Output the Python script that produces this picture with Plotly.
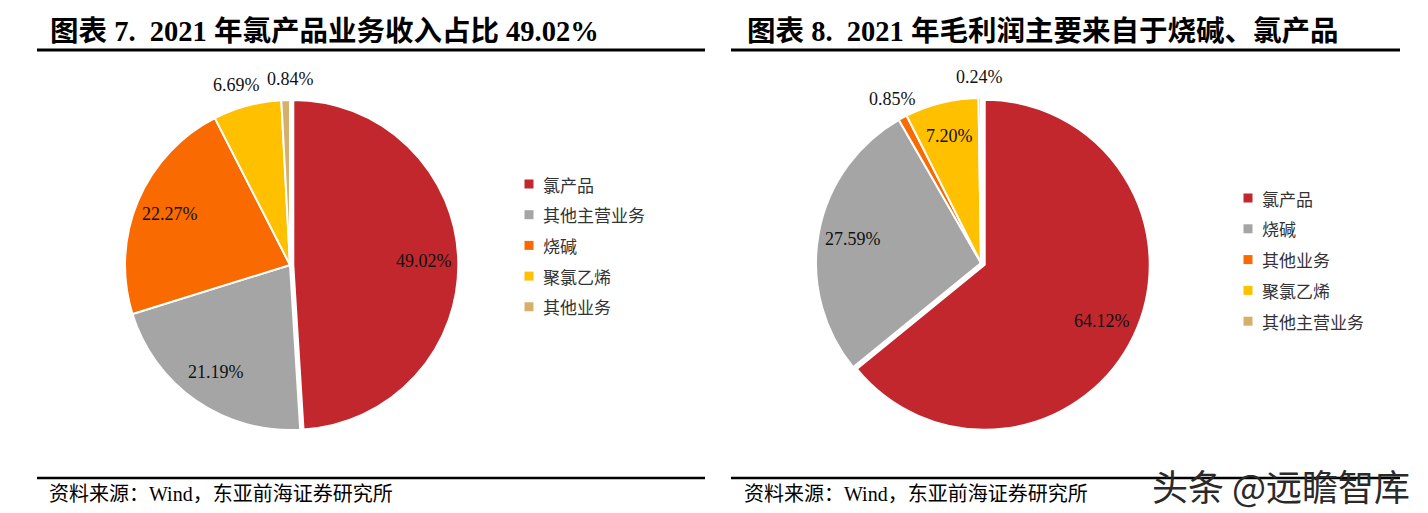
"""
两张饼图：2021 年营业收入与毛利润构成
"""

import math
import plotly.graph_objects as go

# ---- 数据 ----
left_labels = ['氯产品', '其他主营业务', '烧碱', '聚氯乙烯', '其他业务']
left_values = [49.02, 21.19, 22.27, 6.69, 0.84]

right_labels = ['氯产品', '烧碱', '其他业务', '聚氯乙烯', '其他主营业务']
right_values = [64.12, 27.59, 0.85, 7.20, 0.24]

left_title = '图表 7.  2021 年氯产品业务收入占比 49.02%'
right_title = '图表 8.  2021 年毛利润主要来自于烧碱、氯产品'
source_text = '资料来源：Wind，东亚前海证券研究所'
watermark = '头条 @远瞻智库'

# ---- 样式 ----
W, H = 1428, 513
OFF = 8  # 页面 body 的默认外边距
SERIF = 'Liberation Serif, Times New Roman, Noto Sans CJK SC'
CJK = 'Noto Sans CJK SC'
LABEL_SIZE = 18

left_colors = ['#C1272D', '#A5A5A5', '#F96A00', '#FFC000', '#D6B06B']
right_colors = ['#C1272D', '#A5A5A5', '#F96A00', '#FFC000', '#D6B06B']

left_textpos = ['inside', 'inside', 'inside', 'outside', 'outside']
right_textpos = ['inside', 'inside', 'outside', 'inside', 'outside']

# 饼图几何（像素）
left_pie = dict(cx=290, cy=265, r=165, pull=0.02)
right_pie = dict(cx=981, cy=263, r=165, pull=0.025)


def px_x(x):
    return (x - OFF) / (W - OFF)


def px_y(y):
    return 1 - (y - OFF) / (H - OFF)


def pie_trace(labels, values, colors, geo):
    half = geo['r'] * (1 + geo['pull'])
    pulls = [geo['pull']] + [0] * (len(values) - 1)
    return go.Pie(
        labels=labels, values=values,
        marker=dict(colors=colors, line=dict(color='white', width=2)),
        sort=False, direction='clockwise', rotation=0,
        pull=pulls,
        textinfo='none', hoverinfo='label+percent',
        showlegend=False,
        domain=dict(x=[px_x(geo['cx'] - half), px_x(geo['cx'] + half)],
                    y=[px_y(geo['cy'] + half), px_y(geo['cy'] - half)]),
    )


def text_width(s, size):
    # 粗略估计 Times 字宽
    w = 0
    for ch in s:
        if ch.isdigit():
            w += 0.5 * size
        elif ch == '%':
            w += 0.833 * size
        else:
            w += 0.25 * size
    return w


def pie_labels(values, textpos, geo):
    """百分比标签：沿扇区中线放置，外侧标签相互避让"""
    items = []
    total = sum(values)
    cum = 0
    for i, v in enumerate(values):
        theta = 2 * math.pi * (cum + v / 2) / total
        cum += v
        k = 0.79 if textpos[i] == 'inside' else 1.13
        pull = geo['pull'] if i == 0 else 0
        d = geo['r'] * (k + pull)
        items.append(dict(x=geo['cx'] + d * math.sin(theta),
                          y=geo['cy'] - d * math.cos(theta),
                          text=f'{v:.2f}%', pos=textpos[i]))

    outside = [it for it in items if it['pos'] == 'outside']
    for a, b in zip(outside, outside[1:]):
        if abs(a['y'] - b['y']) < LABEL_SIZE * 1.2:
            need = (text_width(a['text'], LABEL_SIZE)
                    + text_width(b['text'], LABEL_SIZE)) / 2 + 8
            gap = abs(b['x'] - a['x'])
            if gap < need:
                push = (need - gap) / 2
                sign = 1 if b['x'] >= a['x'] else -1
                a['x'] -= sign * push
                b['x'] += sign * push

    return [dict(x=px_x(it['x']), y=px_y(it['y']), xref='paper', yref='paper',
                 text=it['text'], showarrow=False,
                 font=dict(family=SERIF, size=LABEL_SIZE, color='#111111'),
                 xanchor='center', yanchor='middle') for it in items]


def legend_items(labels, colors, mx, tx, y0, step):
    shapes, anns = [], []
    for i, (lab, col) in enumerate(zip(labels, colors)):
        y = y0 + step * i
        shapes.append(dict(type='rect', xref='paper', yref='paper',
                           x0=px_x(mx - 4.5), x1=px_x(mx + 4.5),
                           y0=px_y(y + 4.5), y1=px_y(y - 4.5),
                           fillcolor=col, line=dict(width=0)))
        anns.append(dict(x=px_x(tx), y=px_y(y), xref='paper', yref='paper',
                         text=lab, showarrow=False,
                         font=dict(family=CJK, size=17, color='#333333'),
                         xanchor='left', yanchor='middle'))
    return shapes, anns


fig = go.Figure()
fig.add_trace(pie_trace(left_labels, left_values, left_colors, left_pie))
fig.add_trace(pie_trace(right_labels, right_values, right_colors, right_pie))

annotations = []
shapes = []

annotations += pie_labels(left_values, left_textpos, left_pie)
annotations += pie_labels(right_values, right_textpos, right_pie)

s, a = legend_items(left_labels, left_colors, 529, 541, 184, 30.7)
shapes += s
annotations += a
s, a = legend_items(right_labels, right_colors, 1248, 1260, 198, 30.8)
shapes += s
annotations += a

# 标题
for text, x in [(left_title, 48), (right_title, 745)]:
    annotations.append(dict(
        x=px_x(x), y=px_y(31), xref='paper', yref='paper',
        text=f'<b>{text}</b>', showarrow=False,
        font=dict(family=SERIF, size=28.5, color='#000000'),
        xanchor='left', yanchor='middle'))

# 资料来源
for x in [47, 742]:
    annotations.append(dict(
        x=px_x(x), y=px_y(494), xref='paper', yref='paper',
        text=source_text, showarrow=False,
        font=dict(family=SERIF, size=20, color='#000000'),
        xanchor='left', yanchor='middle'))

# 水印
annotations.append(dict(
    x=px_x(1412), y=px_y(485), xref='paper', yref='paper',
    text=watermark, showarrow=False,
    font=dict(family=CJK, size=36, color='#2a2a2a'),
    xanchor='right', yanchor='middle'))

# 分隔线
for x0, x1 in [(37, 705), (731, 1400)]:
    shapes.append(dict(type='line', xref='paper', yref='paper',
                       x0=px_x(x0), x1=px_x(x1), y0=px_y(50), y1=px_y(50),
                       line=dict(color='#000000', width=3)))
    shapes.append(dict(type='line', xref='paper', yref='paper',
                       x0=px_x(x0), x1=px_x(x1), y0=px_y(478), y1=px_y(478),
                       line=dict(color='#000000', width=2.5)))

fig.update_layout(
    width=W - OFF, height=H - OFF,
    margin=dict(l=0, r=0, t=0, b=0),
    paper_bgcolor='white',
    plot_bgcolor='white',
    showlegend=False,
    annotations=annotations,
    shapes=shapes,
)

fig.write_html("out.html")
